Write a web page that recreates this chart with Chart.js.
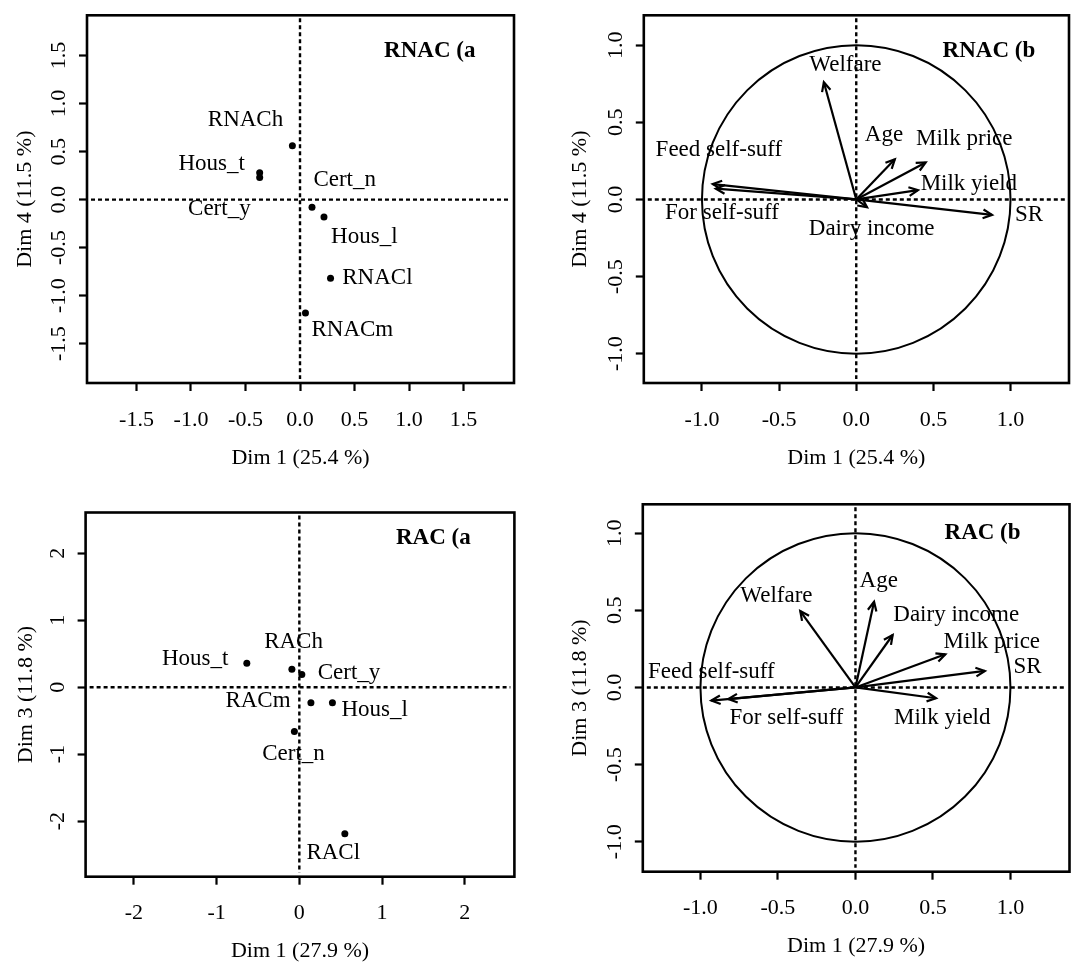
<!DOCTYPE html>
<html>
<head>
  <meta charset="utf-8" />
  <title>RNAC / RAC factor maps</title>
  <script src="https://cdn.jsdelivr.net/npm/chart.js"></script>
  <style>
    body { margin: 0; background: #fff; }
    .panel { position: absolute; width: 542px; height: 489px; }
  </style>
</head>
<body>
  <div class="panel" style="left:0;top:0"><canvas id="rnacA" width="542" height="489"></canvas></div>
  <div class="panel" style="left:542px;top:0"><canvas id="rnacB" width="542" height="489"></canvas></div>
  <div class="panel" style="left:0;top:489px"><canvas id="racA" width="542" height="489"></canvas></div>
  <div class="panel" style="left:542px;top:489px"><canvas id="racB" width="542" height="489"></canvas></div>
  <script>
    // RNAC (a): categories on Dim 1 / Dim 4
    const rnacCats = ['RNACh', 'Hous_t', 'Cert_y', 'Cert_n', 'Hous_l', 'RNACl', 'RNACm'];
    const rnacDim1 = [-0.07, -0.37, -0.37, 0.11, 0.22, 0.28, 0.05];
    const rnacDim4 = [0.56, 0.28, 0.23, -0.08, -0.18, -0.82, -1.18];
    const rnacLabX = [-0.50, -0.81, -0.74, 0.41, 0.59, 0.71, 0.48];
    const rnacLabY = [0.83, 0.37, -0.10, 0.21, -0.39, -0.82, -1.36];

    // RNAC (b): variables (correlation circle)
    const rnacVars = ['Welfare', 'Age', 'Milk price', 'Milk yield', 'SR', 'Feed self-suff', 'For self-suff', 'Dairy income'];
    const rnacVarX = [-0.21, 0.25, 0.45, 0.40, 0.88, -0.93, -0.91, 0.07];
    const rnacVarY = [0.76, 0.26, 0.24, 0.06, -0.10, 0.10, 0.07, -0.05];
    const rnacVarLabX = [-0.07, 0.18, 0.70, 0.73, 1.12, -0.89, -0.87, 0.10];
    const rnacVarLabY = [0.87, 0.42, 0.39, 0.10, -0.10, 0.32, -0.09, -0.19];

    // RAC (a): categories on Dim 1 / Dim 3
    const racCats = ['Hous_t', 'RACh', 'Cert_y', 'RACm', 'Hous_l', 'Cert_n', 'RACl'];
    const racDim1 = [-0.635, -0.09, 0.03, 0.14, 0.40, -0.06, 0.55];
    const racDim3 = [0.36, 0.27, 0.19, -0.23, -0.23, -0.66, -2.19];
    const racLabX = [-1.26, -0.07, 0.60, -0.50, 0.91, -0.07, 0.41];
    const racLabY = [0.42, 0.67, 0.22, -0.21, -0.34, -0.99, -2.47];

    // RAC (b): variables
    const racVars = ['Welfare', 'Age', 'Dairy income', 'Milk price', 'SR', 'Milk yield', 'Feed self-suff', 'For self-suff'];
    const racVarX = [-0.356, 0.12, 0.24, 0.58, 0.835, 0.52, -0.93, -0.82];
    const racVarY = [0.495, 0.555, 0.34, 0.215, 0.107, -0.07, -0.085, -0.075];
    const racVarLabX = [-0.51, 0.15, 0.65, 0.88, 1.11, 0.56, -0.93, -0.445];
    const racVarLabY = [0.59, 0.69, 0.47, 0.295, 0.13, -0.20, 0.10, -0.20];

    // tick values
    const ticksHalf15 = [-1.5, -1.0, -0.5, 0, 0.5, 1.0, 1.5];
    const ticksHalf10 = [-1.0, -0.5, 0, 0.5, 1.0];
    const ticksInt2 = [-2, -1, 0, 1, 2];

    const serif = '"Liberation Serif", "DejaVu Serif", serif';
    const fontSize = 22;     // ticks and axis titles
    const labelSize = 23;    // point / arrow labels and panel titles
    const halfLine = fontSize * 1.2 / 2;

    // box, dashed zero lines, optional unit circle, arrow heads, text labels
    const framePlugin = {
      id: 'frame',
      beforeDatasetsDraw(chart, args, opts) {
        const { ctx, chartArea: a, scales: { x, y } } = chart;
        const zx = x.getPixelForValue(0), zy = y.getPixelForValue(0);
        ctx.save();
        ctx.strokeStyle = '#000';
        if (opts.circle) {
          ctx.lineWidth = 2;
          ctx.beginPath();
          ctx.ellipse(zx, zy, x.getPixelForValue(1) - zx, zy - y.getPixelForValue(1), 0, 0, 2 * Math.PI);
          ctx.stroke();
        }
        ctx.lineWidth = 2.4;
        ctx.setLineDash([4, 3]);
        ctx.beginPath();
        ctx.moveTo(zx, a.top + 3); ctx.lineTo(zx, a.bottom - 4);
        ctx.moveTo(a.left + 4, zy); ctx.lineTo(a.right - 4, zy);
        ctx.stroke();
        ctx.restore();
      },
      afterDatasetsDraw(chart, args, opts) {
        const { ctx, chartArea: a, scales: { x, y } } = chart;
        ctx.save();
        ctx.strokeStyle = '#000';
        ctx.lineWidth = 2.2;
        chart.data.datasets.forEach((ds, i) => {
          if (!ds.arrow) return;
          const pts = chart.getDatasetMeta(i).data;
          const p0 = pts[0], p1 = pts[1];
          const ang = Math.atan2(p1.y - p0.y, p1.x - p0.x);
          const len = 10, spread = Math.PI / 7;
          ctx.beginPath();
          ctx.moveTo(p1.x - len * Math.cos(ang - spread), p1.y - len * Math.sin(ang - spread));
          ctx.lineTo(p1.x, p1.y);
          ctx.lineTo(p1.x - len * Math.cos(ang + spread), p1.y - len * Math.sin(ang + spread));
          ctx.stroke();
        });
        ctx.fillStyle = '#000';
        ctx.textAlign = 'center';
        ctx.textBaseline = 'middle';
        ctx.font = labelSize + 'px ' + serif;
        opts.names.forEach((t, i) => {
          ctx.fillText(t, x.getPixelForValue(opts.labX[i]), y.getPixelForValue(opts.labY[i]));
        });
        ctx.font = 'bold ' + labelSize + 'px ' + serif;
        ctx.fillText(opts.title, x.getPixelForValue(opts.titleX), y.getPixelForValue(opts.titleY));
        ctx.lineWidth = 2.6;
        ctx.strokeRect(a.left, a.top, a.right - a.left, a.bottom - a.top);
        ctx.restore();
      }
    };

    function axis(p, horizontal) {
      const font = { family: serif, size: fontSize };
      return {
        type: 'linear',
        min: horizontal ? p.xMin : p.yMin,
        max: horizontal ? p.xMax : p.yMax,
        afterBuildTicks: s => { s.ticks = (horizontal ? p.xTicks : p.yTicks).map(v => ({ value: v })); },
        afterFit: s => {
          if (horizontal) s.height = p.xTitleY - p.area.bottom + halfLine;
          else s.width = p.area.left - (p.yTitleX - halfLine);
        },
        ticks: {
          autoSkip: false,
          color: '#000',
          font,
          padding: horizontal ? 15.8 : p.yTickPad,
          minRotation: horizontal ? 0 : 90,
          maxRotation: horizontal ? 0 : 90,
          crossAlign: horizontal ? 'near' : 'center',
          callback: v => v.toFixed(p.dec)
        },
        grid: { drawOnChartArea: false, drawTicks: true, tickLength: 8, tickWidth: 2.2, tickColor: '#000' },
        border: { display: false },
        title: { display: true, text: horizontal ? p.xTitle : p.yTitle, color: '#000', font, padding: 0 }
      };
    }

    function panel(id, p) {
      new Chart(document.getElementById(id), {
        type: 'scatter',
        data: { datasets: p.datasets },
        options: {
          responsive: false,
          animation: false,
          layout: {
            padding: {
              left: p.yTitleX - halfLine,
              top: p.area.top,
              right: 542 - p.area.right,
              bottom: 489 - p.xTitleY - halfLine
            }
          },
          plugins: {
            legend: { display: false },
            tooltip: { enabled: false },
            frame: p.frame
          },
          scales: { x: axis(p, true), y: axis(p, false) }
        },
        plugins: [framePlugin]
      });
    }

    function pointSet(xs, ys) {
      return [{
        data: xs.map((v, i) => ({ x: v, y: ys[i] })),
        pointRadius: 3.5,
        pointBackgroundColor: '#000',
        pointBorderWidth: 0
      }];
    }

    function arrowSets(xs, ys) {
      return xs.map((v, i) => ({
        data: [{ x: 0, y: 0 }, { x: v, y: ys[i] }],
        showLine: true,
        borderColor: '#000',
        borderWidth: 2.2,
        pointRadius: 0,
        arrow: true
      }));
    }

    panel('rnacA', {
      area: { left: 87, right: 514, top: 12.7, bottom: 383 },
      xMin: -1.954, xMax: 1.963, yMin: -1.91, yMax: 1.92,
      xTicks: ticksHalf15, yTicks: ticksHalf15, dec: 1, yTickPad: 2.1,
      xTitle: 'Dim 1 (25.4 %)', yTitle: 'Dim 4 (11.5 %)', xTitleY: 458, yTitleX: 25,
      datasets: pointSet(rnacDim1, rnacDim4),
      frame: { names: rnacCats, labX: rnacLabX, labY: rnacLabY, title: 'RNAC (a', titleX: 1.19, titleY: 1.55 }
    });

    panel('rnacB', {
      area: { left: 101.8, right: 527, top: 11, bottom: 383 },
      xMin: -1.377, xMax: 1.379, yMin: -1.19, yMax: 1.194,
      xTicks: ticksHalf10, yTicks: ticksHalf10, dec: 1, yTickPad: 2.1,
      xTitle: 'Dim 1 (25.4 %)', yTitle: 'Dim 4 (11.5 %)', xTitleY: 458, yTitleX: 38,
      datasets: arrowSets(rnacVarX, rnacVarY),
      frame: { circle: true, names: rnacVars, labX: rnacVarLabX, labY: rnacVarLabY, title: 'RNAC (b', titleX: 0.86, titleY: 0.96 }
    });

    panel('racA', {
      area: { left: 85.6, right: 514.4, top: 18.7, bottom: 387.7 },
      xMin: -2.584, xMax: 2.60, yMin: -2.83, yMax: 2.61,
      xTicks: ticksInt2, yTicks: ticksInt2, dec: 0, yTickPad: 10.3,
      xTitle: 'Dim 1 (27.9 %)', yTitle: 'Dim 3 (11.8 %)', xTitleY: 462, yTitleX: 26,
      datasets: pointSet(racDim1, racDim3),
      frame: { names: racCats, labX: racLabX, labY: racLabY, title: 'RAC (a', titleX: 1.62, titleY: 2.23 }
    });

    panel('racB', {
      area: { left: 100.8, right: 527.5, top: 13.7, bottom: 382.7 },
      xMin: -1.372, xMax: 1.381, yMin: -1.194, yMax: 1.187,
      xTicks: ticksHalf10, yTicks: ticksHalf10, dec: 1, yTickPad: 2.1,
      xTitle: 'Dim 1 (27.9 %)', yTitle: 'Dim 3 (11.8 %)', xTitleY: 457, yTitleX: 38,
      datasets: arrowSets(racVarX, racVarY),
      frame: { circle: true, names: racVars, labX: racVarLabX, labY: racVarLabY, title: 'RAC (b', titleX: 0.82, titleY: 1.0 }
    });
  </script>
</body>
</html>
